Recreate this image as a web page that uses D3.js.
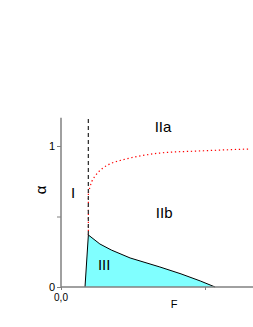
<!DOCTYPE html>
<html>
<head>
<meta charset="utf-8">
<script src="https://cdn.jsdelivr.net/npm/d3@7"></script>
<style>
  body { margin: 0; background: #fff; }
  text { font-family: "Liberation Sans", Arial, sans-serif; }
</style>
</head>
<body>
<svg id="chart" width="253" height="327"></svg>
<script>
/* global d3 */

// phase boundaries (F, alpha)
const regionIII = [
  [0.50, 0], [0.57, 0.369], [0.81, 0.305], [1.05, 0.262], [1.44, 0.206],
  [2.06, 0.142], [2.50, 0.093], [2.90, 0.043], [3.21, 0],
];
const redBoundary = [
  [0.57, 0.369], [0.57, 0.52], [0.57, 0.667], [0.64, 0.747], [0.71, 0.787],
  [0.875, 0.844], [1.06, 0.879], [1.26, 0.90], [1.44, 0.915], [2.06, 0.95],
  [2.90, 0.965], [3.94, 0.979],
];
const dashedF = 0.57;
const dashedAlpha = [0.369, 1.2];

const regionLabels = ['I', 'IIa', 'IIb', 'III'];
const regionAt = [[0.25, 0.667], [2.125, 1.14], [2.15, 0.525], [0.9, 0.156]];

const yTicks = [0, 0.5, 1];
const yTickLabels = ['0', '', '1'];
const xTicks = [0, 3];

const svg = d3.select('#chart');

const x = d3.scaleLinear().domain([0, 4]).range([61, 253]);
const y = d3.scaleLinear().domain([0, 1.2]).range([287, 117.8]);

const line = d3.line()
  .x(d => x(d[0]))
  .y(d => y(d[1]));

// region III fill
svg.append('path')
  .attr('d', line(regionIII))
  .attr('fill', '#80ffff')
  .attr('stroke', '#000')
  .attr('stroke-width', 1);

// red dotted boundary (under the dashed line)
svg.append('path')
  .attr('d', line.curve(d3.curveMonotoneX)(redBoundary.slice(2)) +
    'M' + x(dashedF) + ',' + y(redBoundary[0][1]) + 'L' + x(dashedF) + ',' + y(redBoundary[2][1]))
  .attr('fill', 'none')
  .attr('stroke', '#ff0000')
  .attr('stroke-width', 1.2)
  .attr('stroke-dasharray', '1.3,2.7');

// vertical dashed boundary
svg.append('line')
  .attr('x1', x(dashedF))
  .attr('x2', x(dashedF))
  .attr('y1', y(dashedAlpha[0]))
  .attr('y2', y(dashedAlpha[1]))
  .attr('stroke', '#333')
  .attr('stroke-width', 1.3)
  .attr('stroke-dasharray', '4,3');

// axes
const axisColor = '#808080';

const yAxis = svg.append('g')
  .attr('transform', `translate(${x(0)},0)`)
  .call(d3.axisLeft(y).tickValues(yTicks).tickSize(4).tickPadding(2)
    .tickFormat((d, i) => yTickLabels[i]));

const xAxis = svg.append('g')
  .attr('transform', `translate(0,${y(0)})`)
  .call(d3.axisBottom(x).tickValues(xTicks).tickSize(3).tickFormat(''));

[xAxis, yAxis].forEach(a => {
  a.select('.domain').attr('stroke', axisColor).attr('stroke-width', 1.5);
  a.selectAll('.tick line').attr('stroke', axisColor);
  a.selectAll('.tick text')
    .attr('fill', '#000')
    .attr('font-size', 11)
    .attr('font-family', '"Liberation Sans", Arial, sans-serif');
});
yAxis.select('.domain').attr('d', `M0,${y(1.2)}V${y(0)}`);
xAxis.select('.domain').attr('d', `M${x(0)},0H${x(4)}`);

svg.append('text')
  .attr('x', x(0))
  .attr('y', 301)
  .attr('text-anchor', 'middle')
  .attr('font-size', 10)
  .text('0,0');

svg.append('text')
  .attr('x', 174)
  .attr('y', 308)
  .attr('text-anchor', 'middle')
  .attr('font-size', 11)
  .text('F');

svg.append('text')
  .attr('transform', 'translate(46,190) rotate(-90)')
  .attr('text-anchor', 'middle')
  .attr('font-size', 15)
  .text('α');

svg.selectAll('text.region')
  .data(regionLabels)
  .enter().append('text')
    .attr('class', 'region')
    .attr('x', (d, i) => x(regionAt[i][0]))
    .attr('y', (d, i) => y(regionAt[i][1]))
    .attr('dy', '0.35em')
    .attr('text-anchor', 'middle')
    .attr('font-size', 15)
    .text(d => d);
</script>
</body>
</html>
